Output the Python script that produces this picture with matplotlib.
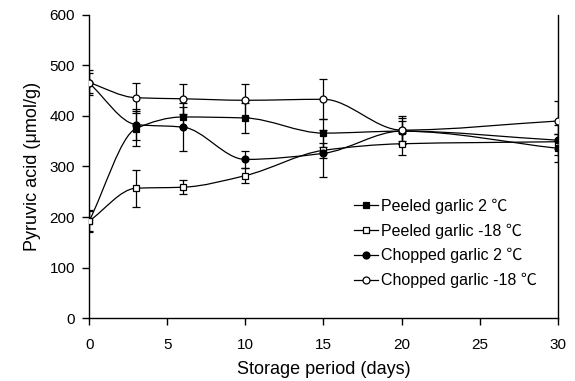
import matplotlib
matplotlib.use("Agg")
import matplotlib.pyplot as plt
import numpy as np
from matplotlib.path import Path
from matplotlib.patches import PathPatch

plt.rcParams['font.family'] = ['Liberation Sans', 'Noto Sans CJK SC', 'DejaVu Sans']

days = [0, 3, 6, 10, 15, 20, 30]
peeled_2 = [192, 375, 398, 396, 366, 370, 336]
peeled_2_err = [20, 35, 20, 30, 28, 20, 28]
peeled_m18 = [192, 257, 259, 282, 332, 345, 349]
peeled_m18_err = [22, 37, 14, 15, 15, 22, 15]
chopped_2 = [465, 383, 378, 314, 326, 370, 352]
chopped_2_err = [20, 30, 47, 17, 47, 25, 30]
chopped_m18 = [466, 436, 434, 431, 433, 372, 390]
chopped_m18_err = [24, 30, 30, 33, 40, 28, 40]

series = [
    ("Peeled garlic 2 ℃", peeled_2, peeled_2_err, 's', 'black'),
    ("Peeled garlic -18 ℃", peeled_m18, peeled_m18_err, 's', 'white'),
    ("Chopped garlic 2 ℃", chopped_2, chopped_2_err, 'o', 'black'),
    ("Chopped garlic -18 ℃", chopped_m18, chopped_m18_err, 'o', 'white'),
]

def smooth_path(x, y):
    x = np.asarray(x, float); y = np.asarray(y, float)
    n = len(x)
    d = np.diff(y) / np.diff(x)
    m = np.zeros(n)
    m[0] = d[0]; m[-1] = d[-1]
    for i in range(1, n - 1):
        if d[i-1] * d[i] <= 0:
            m[i] = 0
        else:
            w1 = 2*(x[i+1]-x[i]) + (x[i]-x[i-1])
            w2 = (x[i+1]-x[i]) + 2*(x[i]-x[i-1])
            m[i] = (w1 + w2) / (w1/d[i-1] + w2/d[i])
    verts = [(x[0], y[0])]
    codes = [Path.MOVETO]
    for i in range(n - 1):
        h = x[i+1] - x[i]
        verts += [(x[i] + h/3, y[i] + m[i]*h/3),
                  (x[i+1] - h/3, y[i+1] - m[i+1]*h/3),
                  (x[i+1], y[i+1])]
        codes += [Path.CURVE4]*3
    return Path(verts, codes)

fig = plt.figure(figsize=(5.75, 3.81), dpi=100)
ax = fig.add_axes([0.155, 0.165, 0.815, 0.796])

handles = []
for label, vals, err, mk, fc in series:
    ax.add_patch(PathPatch(smooth_path(days, vals), fill=False, lw=0.9,
                           edgecolor='black', zorder=2))
    ax.errorbar(days, vals, yerr=err, fmt='none', ecolor='black',
                elinewidth=0.9, capsize=3, capthick=0.9, zorder=3)
    ax.plot(days, vals, linestyle='none', marker=mk, markersize=5,
            markerfacecolor=fc, markeredgecolor='black', markeredgewidth=0.9,
            zorder=4)
    h, = ax.plot([], [], linestyle='-', color='black', lw=0.9, marker=mk,
                 markersize=5, markerfacecolor=fc, markeredgecolor='black',
                 markeredgewidth=0.9, label=label)
    handles.append(h)

ax.set_xlim(0, 30)
ax.set_ylim(0, 600)
ax.set_xticks([0, 5, 10, 15, 20, 25, 30])
ax.set_yticks([0, 100, 200, 300, 400, 500, 600])
ax.spines['top'].set_visible(False)
for s in ['left', 'bottom', 'right']:
    ax.spines[s].set_linewidth(1.0)
ax.tick_params(axis='both', direction='out', length=5, width=1.0,
               labelsize=11)
ax.tick_params(axis='y', pad=5)
ax.tick_params(axis='x', pad=9.5)
ax.set_xlabel("Storage period (days)", fontsize=13, labelpad=6)
ax.set_ylabel("Pyruvic acid (μmol/g)", fontsize=13, labelpad=6)

ax.legend(handles=handles, loc='upper left', bbox_to_anchor=(0.565, 0.395),
          frameon=False, fontsize=11.5, handlelength=1.5, handletextpad=0.2,
          labelspacing=0.6, borderaxespad=0, borderpad=0)

fig.savefig("out.png", dpi=100)
